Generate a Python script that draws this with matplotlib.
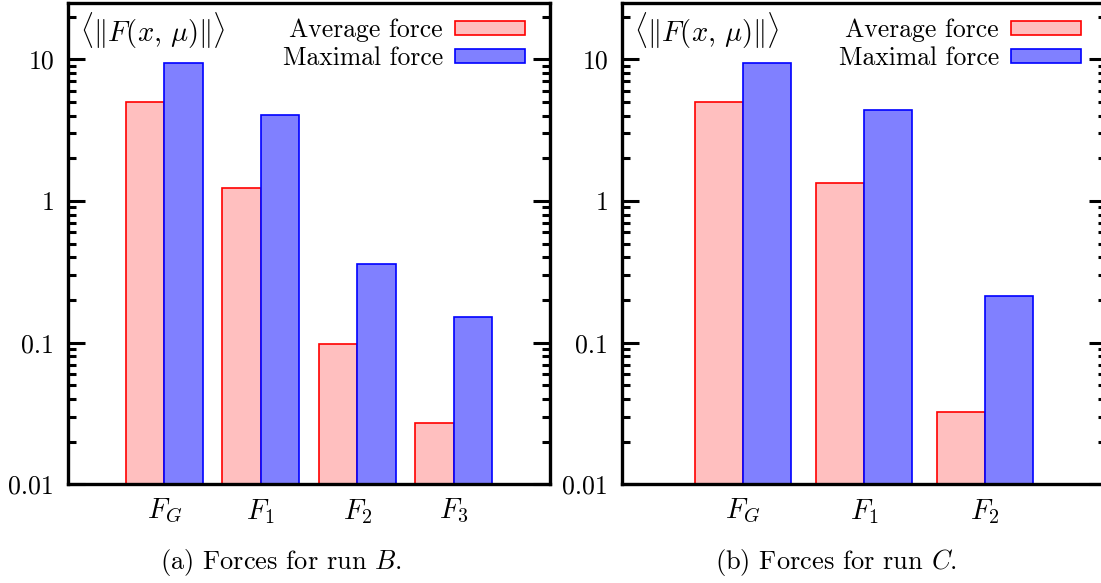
import numpy as np
import matplotlib
matplotlib.use("Agg")
import matplotlib.pyplot as plt
from matplotlib.ticker import FixedLocator, FixedFormatter, LogLocator, NullFormatter

plt.rcParams['font.family'] = ['cmr10', 'DejaVu Serif']
plt.rcParams['mathtext.fontset'] = 'cm'
plt.rcParams['axes.formatter.use_mathtext'] = True

# data
labels_b = [r'$F_G$', r'$F_1$', r'$F_2$', r'$F_3$']
avg_b = [5.0, 1.23, 0.098, 0.0273]
max_b = [9.5, 4.05, 0.36, 0.151]

labels_c = [r'$F_G$', r'$F_1$', r'$F_2$']
avg_c = [5.0, 1.33, 0.0326]
max_c = [9.5, 4.39, 0.215]

yticks = [0.01, 0.1, 1, 10]
yticklabels = ['0.01', '0.1', '1', '10']
captions = [r'(a) Forces for run $B$.', r'(b) Forces for run $C$.']

fs_tick = 18.5
fs_leg = 18.5
fs_x = 20.5
W, H = 1101, 583
fig = plt.figure(figsize=(W/100, H/100), dpi=100)

ax_b = fig.add_axes([68/W, (H-484.3)/H, 482/W, 481.3/H])
ax_c = fig.add_axes([622/W, (H-484.3)/H, 484/W, 481.3/H])


def draw(ax, labels, avg, mx):
    x = np.arange(1, len(labels) + 1)
    w = 0.4
    ax.bar(x - w/2, avg, width=w, color='#ffbfbf', edgecolor='#ff0000',
           linewidth=1.2, label='Average force')
    ax.bar(x + w/2, mx, width=w, color='#8080ff', edgecolor='#0000ff',
           linewidth=1.2, label='Maximal force')
    ax.set_yscale('log')
    ax.set_ylim(0.01, 25)
    ax.set_xlim(0, len(labels) + 1)
    ax.set_xticks(x)
    ax.set_xticklabels(labels, fontsize=fs_x)
    ax.yaxis.set_major_locator(FixedLocator(yticks))
    ax.yaxis.set_major_formatter(FixedFormatter(yticklabels))
    ax.yaxis.set_minor_locator(LogLocator(base=10, subs=np.arange(2, 10)))
    ax.yaxis.set_minor_formatter(NullFormatter())
    ax.tick_params(axis='y', which='both', direction='in', left=True, right=True,
                   labelsize=fs_tick, width=2.2, pad=10)
    ax.tick_params(axis='y', which='major', length=12)
    ax.tick_params(axis='y', which='minor', length=6)
    ax.tick_params(axis='x', length=0, pad=9)
    for s in ax.spines.values():
        s.set_linewidth(2.4)
    ax.text(0.025, 0.985, r'$\langle\|F(x,\,\mu)\|\rangle$',
            transform=ax.transAxes, ha='left', va='top', fontsize=20.5)
    # legend anchored so that the swatches end ~25 px inside the right spine
    right = 1 - 25.4 / ax.bbox.width
    ax.legend(loc='upper right', bbox_to_anchor=(right, 0.968), frameon=False,
              markerfirst=False, fontsize=fs_leg, handlelength=2.69, handleheight=0.5,
              handletextpad=0.49, labelspacing=0.16, borderpad=0, borderaxespad=0)


draw(ax_b, labels_b, avg_b, max_b)
draw(ax_c, labels_c, avg_c, max_c)

fig.text(281/W, 1 - 562/H, captions[0], ha='center', va='center', fontsize=19)
fig.text(836/W, 1 - 562/H, captions[1], ha='center', va='center', fontsize=19)

fig.savefig('out.png', dpi=100)
